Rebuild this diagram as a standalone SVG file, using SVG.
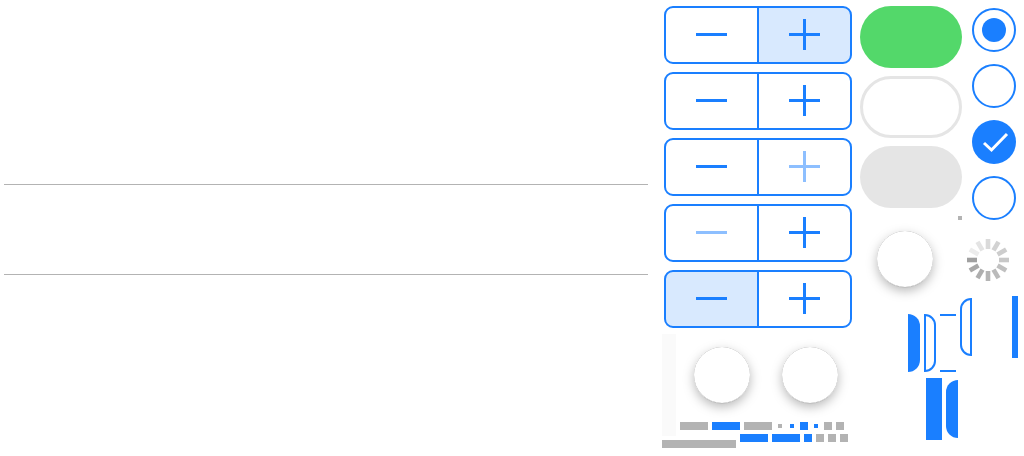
<svg xmlns="http://www.w3.org/2000/svg" width="1024" height="456" viewBox="0 0 1024 456">
<defs>
<filter id="sh" x="-50%" y="-50%" width="200%" height="200%">
<feDropShadow dx="0" dy="4" stdDeviation="5.5" flood-color="#000" flood-opacity="0.28" result="a"/>
<feDropShadow in="SourceAlpha" dx="0" dy="0.5" stdDeviation="0.6" flood-color="#000" flood-opacity="0.14" result="b"/>
<feMerge><feMergeNode in="a"/><feMergeNode in="b"/><feMergeNode in="SourceGraphic"/></feMerge>
</filter>
<g id="minus"><rect x="696" y="33" width="31" height="3"/></g>
<g id="plus"><rect x="789" y="33" width="31" height="3"/><rect x="803" y="19" width="3" height="31"/></g>
<g id="frame"><rect class="fr" x="665" y="7" width="186" height="56" rx="8"/><rect class="b" x="757" y="7" width="2" height="56"/></g>
</defs>
<style>
.b{fill:#1a7fff}
.g{fill:#b3b3b3}
.fr{fill:none;stroke:#1a7fff;stroke-width:2}
.ol{fill:none;stroke:#1a7fff;stroke-width:2}
.sel{fill:#d8e9fe}
.dim{fill:#8dbfff}
.knob{fill:#fff;filter:url(#sh)}
.sp{stroke-width:4.6;fill:none}
</style>
<rect width="1024" height="456" fill="#fff"/>
<g id="rules"><rect x="4" y="184" width="644" height="1" fill="#b3b3b3"/><rect x="4" y="274" width="644" height="1" fill="#b3b3b3"/></g>
<g id="stepper1"><path class="sel" d="M758 7H843a8 8 0 0 1 8 8V55a8 8 0 0 1-8 8H758Z"/><use href="#frame"/><use href="#minus" class="b"/><use href="#plus" class="b"/></g>
<g id="stepper2" transform="translate(0 66)"><use href="#frame"/><use href="#minus" class="b"/><use href="#plus" class="b"/></g>
<g id="stepper3" transform="translate(0 132)"><use href="#frame"/><use href="#minus" class="b"/><use href="#plus" class="dim"/></g>
<g id="stepper4" transform="translate(0 198)"><use href="#frame"/><use href="#minus" class="dim"/><use href="#plus" class="b"/></g>
<g id="stepper5" transform="translate(0 264)"><path class="sel" d="M758 7H673a8 8 0 0 0-8 8V55a8 8 0 0 0 8 8H758Z"/><use href="#frame"/><use href="#minus" class="b"/><use href="#plus" class="b"/></g>
<g id="pill-on"><rect x="860" y="6" width="102" height="62" rx="31" fill="#53d86a"/></g>
<g id="pill-off"><rect x="861.5" y="77.5" width="99" height="59" rx="29.5" fill="#fff" stroke="#e5e5e5" stroke-width="3"/></g>
<g id="pill-disabled"><rect x="860" y="146" width="102" height="62" rx="31" fill="#e5e5e5"/></g>
<g id="radio1"><circle class="ol" cx="994" cy="30" r="21"/><circle class="b" cx="994" cy="30" r="12"/></g>
<g id="radio2"><circle class="ol" cx="994" cy="86" r="21"/></g>
<g id="radio3"><circle class="b" cx="994" cy="142" r="22"/><path d="M984 143L991.5 150L1007 134" fill="none" stroke="#fff" stroke-width="3"/></g>
<g id="radio4"><circle class="ol" cx="994" cy="198" r="21"/></g>
<rect class="g" x="958" y="216" width="4" height="4"/>
<g id="knob3"><circle class="knob" cx="905" cy="259" r="28"/></g>
<g id="spinner" class="sp" transform="translate(988 260)">
<line x1="-11" x2="-21" stroke="#a0a0a0"/>
<line x1="-11" x2="-21" stroke="#ececec" transform="rotate(30)"/>
<line x1="-11" x2="-21" stroke="#e4e4e4" transform="rotate(60)"/>
<line x1="-11" x2="-21" stroke="#dadada" transform="rotate(90)"/>
<line x1="-11" x2="-21" stroke="#d2d2d2" transform="rotate(120)"/>
<line x1="-11" x2="-21" stroke="#cdcdcd" transform="rotate(150)"/>
<line x1="-11" x2="-21" stroke="#c8c8c8" transform="rotate(180)"/>
<line x1="-11" x2="-21" stroke="#c0c0c0" transform="rotate(210)"/>
<line x1="-11" x2="-21" stroke="#bababa" transform="rotate(240)"/>
<line x1="-11" x2="-21" stroke="#b4b4b4" transform="rotate(270)"/>
<line x1="-11" x2="-21" stroke="#aeaeae" transform="rotate(300)"/>
<line x1="-11" x2="-21" stroke="#a8a8a8" transform="rotate(330)"/>
</g>
<g id="segments">
<path class="b" d="M908 314a12 12 0 0 1 12 12V360a12 12 0 0 1-12 12Z"/>
<path class="ol" d="M925 315a10 10 0 0 1 10 10V361a10 10 0 0 1-10 10Z"/>
<rect class="b" x="940" y="314" width="16" height="2"/>
<rect class="b" x="940" y="370" width="16" height="2"/>
<path class="ol" d="M971 299a10 10 0 0 0-10 10V345a10 10 0 0 0 10 10Z"/>
<rect class="b" x="1012" y="296" width="6" height="62"/>
<rect class="b" x="926" y="378" width="16" height="62"/>
<path class="b" d="M958 380a12 12 0 0 0-12 12V426a12 12 0 0 0 12 12Z"/>
</g>
<rect x="662" y="334" width="14" height="102" fill="#fafafa"/>
<g id="knob1"><circle class="knob" cx="722" cy="375" r="28"/></g>
<g id="knob2"><circle class="knob" cx="810" cy="375" r="28"/></g>
<g id="swatches">
<rect class="g" x="680" y="422" width="28" height="8"/>
<rect class="b" x="712" y="422" width="28" height="8"/>
<rect class="g" x="744" y="422" width="28" height="8"/>
<rect class="g" x="778" y="424" width="4" height="4"/>
<rect class="b" x="790" y="424" width="4" height="4"/>
<rect class="b" x="800" y="422" width="8" height="8"/>
<rect class="b" x="814" y="424" width="4" height="4"/>
<rect class="g" x="824" y="422" width="8" height="8"/>
<rect class="g" x="836" y="422" width="8" height="8"/>
<rect class="b" x="740" y="434" width="28" height="8"/>
<rect class="b" x="772" y="434" width="28" height="8"/>
<rect class="b" x="804" y="434" width="8" height="8"/>
<rect class="g" x="816" y="434" width="8" height="8"/>
<rect class="g" x="828" y="434" width="8" height="8"/>
<rect class="g" x="840" y="434" width="8" height="8"/>
<rect class="g" x="662" y="440" width="74" height="8"/>
</g>
</svg>
